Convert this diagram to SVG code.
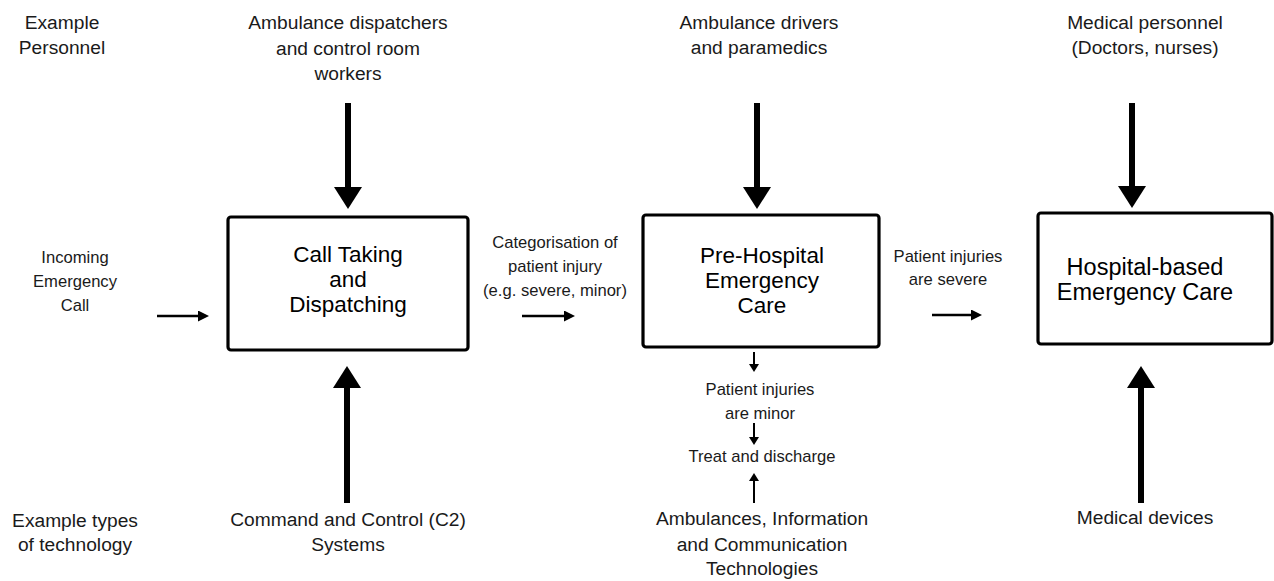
<svg xmlns="http://www.w3.org/2000/svg" width="1274" height="581" viewBox="0 0 1274 581">
<defs>
<style>
text{font-family:"Liberation Sans",Arial,sans-serif;fill:#1a1a1a;text-anchor:middle}
.lbl{font-size:19.2px}
.sm{font-size:16.6px}
.box{fill:#fff;stroke:#000;stroke-width:3.2}
.bt{font-size:22.5px;fill:#000}
.big{stroke:#000;stroke-width:6;fill:none}
.thin{stroke:#000;stroke-width:2.6;fill:none}
.tiny{stroke:#000;stroke-width:2;fill:none}
</style>
<marker id="hb" markerUnits="userSpaceOnUse" viewBox="0 0 22 28" refX="0" refY="14" markerWidth="22" markerHeight="28" orient="auto"><path d="M0,0 L22,14 L0,28 z" fill="#000"/></marker>
<marker id="hs" markerUnits="userSpaceOnUse" viewBox="0 0 11 11" refX="0" refY="5.5" markerWidth="11" markerHeight="11" orient="auto"><path d="M0,0 L11,5.5 L0,11 z" fill="#000"/></marker>
<marker id="ht" markerUnits="userSpaceOnUse" viewBox="0 0 8 10" refX="0" refY="5" markerWidth="8" markerHeight="10" orient="auto"><path d="M0,0 L8,5 L0,10 z" fill="#000"/></marker>
</defs>
<rect width="1274" height="581" fill="#fff"/>

<g id="row-labels">
<text class="lbl" x="62" y="29">Example</text>
<text class="lbl" x="62" y="54">Personnel</text>
<text class="lbl" x="75" y="527">Example types</text>
<text class="lbl" x="75" y="551">of technology</text>
</g>

<g id="personnel-1"><text class="lbl" x="348" y="29">Ambulance dispatchers</text><text class="lbl" x="348" y="55">and control room</text><text class="lbl" x="348" y="80">workers</text></g>
<g id="personnel-2"><text class="lbl" x="759" y="29">Ambulance drivers</text><text class="lbl" x="759" y="54">and paramedics</text></g>
<g id="personnel-3"><text class="lbl" x="1145" y="29">Medical personnel</text><text class="lbl" x="1145" y="54">(Doctors, nurses)</text></g>

<g id="tech-1"><text class="lbl" x="348" y="526">Command and Control (C2)</text><text class="lbl" x="348" y="551">Systems</text></g>
<g id="tech-2"><text class="lbl" x="762" y="525">Ambulances, Information</text><text class="lbl" x="762" y="551">and Communication</text><text class="lbl" x="762" y="575">Technologies</text></g>
<g id="tech-3"><text class="lbl" x="1145" y="524">Medical devices</text></g>

<g id="incoming"><text class="sm" x="75" y="263">Incoming</text><text class="sm" x="75" y="287">Emergency</text><text class="sm" x="75" y="311">Call</text></g>

<g id="box-call">
<rect class="box" x="228" y="217" width="240" height="133" rx="3"/>
<text class="bt" x="348" y="262">Call Taking</text><text class="bt" x="348" y="287">and</text><text class="bt" x="348" y="312">Dispatching</text>
</g>

<g id="categorisation"><text class="sm" x="555" y="248">Categorisation of</text><text class="sm" x="555" y="272">patient injury</text><text class="sm" x="555" y="296">(e.g. severe, minor)</text></g>

<g id="box-prehospital">
<rect class="box" x="643" y="215" width="236" height="132" rx="3"/>
<text class="bt" x="762" y="263">Pre-Hospital</text><text class="bt" x="762" y="288">Emergency</text><text class="bt" x="762" y="313">Care</text>
</g>

<g id="severe"><text class="sm" x="948" y="262">Patient injuries</text><text class="sm" x="948" y="285">are severe</text></g>

<g id="box-hospital">
<rect class="box" x="1038" y="213" width="234" height="131" rx="3"/>
<text class="bt" x="1145" y="275" style="font-size:23.5px">Hospital-based</text><text class="bt" x="1145" y="300" style="font-size:23.5px">Emergency Care</text>
</g>

<g id="minor"><text class="sm" x="760" y="395">Patient injuries</text><text class="sm" x="760" y="419">are minor</text></g>
<g id="discharge"><text class="sm" x="762" y="462">Treat and discharge</text></g>

<g id="connectors">
<line class="big" x1="348" y1="103" x2="348" y2="187" marker-end="url(#hb)"/>
<line class="big" x1="757" y1="103" x2="757" y2="187" marker-end="url(#hb)"/>
<line class="big" x1="1132" y1="103" x2="1132" y2="186" marker-end="url(#hb)"/>
<line class="big" x1="347" y1="503" x2="347" y2="388" marker-end="url(#hb)"/>
<line class="big" x1="1141" y1="503" x2="1141" y2="388" marker-end="url(#hb)"/>
<line class="thin" x1="157" y1="316" x2="198" y2="316" marker-end="url(#hs)"/>
<line class="thin" x1="522" y1="316" x2="564" y2="316" marker-end="url(#hs)"/>
<line class="thin" x1="932" y1="315" x2="971" y2="315" marker-end="url(#hs)"/>
<line class="tiny" x1="754" y1="352" x2="754" y2="364" marker-end="url(#ht)"/>
<line class="tiny" x1="754" y1="423" x2="754" y2="437" marker-end="url(#ht)"/>
<line class="tiny" x1="754" y1="503" x2="754" y2="481" marker-end="url(#ht)"/>
</g>
</svg>
